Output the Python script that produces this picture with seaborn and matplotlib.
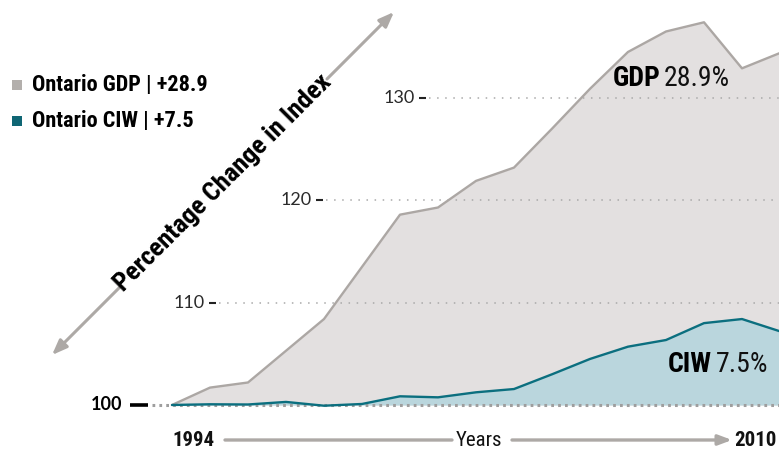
import matplotlib
matplotlib.use("Agg")
import matplotlib.pyplot as plt
from matplotlib import font_manager as fm
import seaborn as sns
import pandas as pd
import os

# ---- data ----
years = list(range(1994, 2011))
gdp = [100, 101.7, 102.2, 105.3, 108.4, 113.5, 118.6, 119.3, 121.9, 123.2,
       127.0, 130.9, 134.5, 136.5, 137.4, 132.9, 134.4]
ciw = [100, 100.07, 100.05, 100.3, 99.93, 100.1, 100.85, 100.75, 101.24, 101.56,
       103.0, 104.5, 105.7, 106.35, 108.0, 108.4, 107.2]
series_names = ["Ontario GDP", "Ontario CIW"]
legend_labels = ["Ontario GDP | +28.9", "Ontario CIW | +7.5"]
tick_values = [100, 110, 120, 130]
tick_labels = ["100", "110", "120", "130"]
x_labels = ["1994", "Years", "2010"]
y_title = "Percentage Change in Index"
annot_gdp = ("GDP", "28.9%")
annot_ciw = ("CIW", "7.5%")

# ---- fonts: look for a condensed face ----
files = [f.fname for f in fm.fontManager.ttflist]
def find(patterns):
    for p in patterns:
        for f in files:
            if os.path.basename(f).lower() == p.lower():
                return f
    return None

bold_file = find(["LiberationSansNarrow-Bold.ttf", "NotoSans-ExtraCondensedBold.ttf",
                  "RobotoCondensed-Bold.ttf", "DejaVuSansCondensed-Bold.ttf",
                  "NotoSans-CondensedBold.ttf", "OpenSans-CondensedBold.ttf"])
reg_file = find(["LiberationSansNarrow-Regular.ttf", "NotoSans-ExtraCondensed.ttf",
                 "RobotoCondensed-Regular.ttf", "DejaVuSansCondensed.ttf",
                 "NotoSans-Condensed.ttf", "OpenSans-CondensedRegular.ttf"])

def fp(size, bold=True):
    f = bold_file if bold else reg_file
    if f:
        return fm.FontProperties(fname=f, size=size)
    return fm.FontProperties(family="DejaVu Sans", stretch="condensed",
                             weight="bold" if bold else "normal", size=size)

# ---- styling ----
sns.set_style("white")
GEO = ["Lato", "DejaVu Sans"]
plt.rcParams["font.family"] = ["DejaVu Sans"]

GDP_FILL = "#e3e0e0"
GDP_LINE = "#aca7a4"
CIW_FILL = "#bad6dd"
CIW_LINE = "#0b6f7f"
ARROW = "#ada9a6"
DOT = "#a9a9a9"

W, H = 779, 450
fig = plt.figure(figsize=(W / 100, H / 100), dpi=100)
ax = fig.add_axes([0, 0, 1, 1])
ax.set_axis_off()

x0px, pxyr = 172, 38.0
y100px, pxunit = 405, 10.233
ax.set_xlim(1994 - x0px / pxyr, 1994 + (W - x0px) / pxyr)
ax.set_ylim(100 - (H - y100px) / pxunit, 100 + y100px / pxunit)

def px2x(px):
    return 1994 + (px - x0px) / pxyr

df = pd.DataFrame({"year": years * 2,
                   "value": gdp + ciw,
                   "series": [series_names[0]] * len(years) + [series_names[1]] * len(years)})

ax.fill_between(years, 100, gdp, color=GDP_FILL, lw=0, zorder=1)
ax.fill_between(years, 100, ciw, color=CIW_FILL, lw=0, zorder=2)

label_right = {100: 122, 110: 205, 120: 312, 130: 415}
for v, lab in zip(tick_values, tick_labels):
    L = label_right[v]
    if v == 100:
        ax.hlines(v, px2x(152), px2x(W + 5), color="#9e9e9e", lw=2.2,
                  linestyles=(0, (0.9, 1.35)), zorder=5)
        ax.hlines(v, px2x(130), px2x(148), color="black", lw=2.6, zorder=5)
        ax.text(px2x(L), v, lab, ha="right", va="center", fontsize=13,
                fontweight="bold", family=GEO, color="black")
    else:
        ax.hlines(v, px2x(L + 14), px2x(W + 5), color=DOT, lw=1.1,
                  linestyles=(0, (1, 4.3)), zorder=3)
        ax.hlines(v, px2x(L + 4), px2x(L + 11), color="#222222", lw=1.5, zorder=3)
        ax.text(px2x(L), v, lab, ha="right", va="center", fontsize=13,
                fontweight="normal", family=GEO, color="#2a2a2a")

sns.lineplot(data=df, x="year", y="value", hue="series",
             palette={series_names[0]: GDP_LINE, series_names[1]: CIW_LINE},
             linewidth=1.7, legend=False, ax=ax, zorder=6)

fig.text(660 / W, 1 - 78 / H, annot_gdp[0], ha="right", va="center",
         fontproperties=fp(20, True), color="black")
fig.text(664 / W, 1 - 78 / H, annot_gdp[1], ha="left", va="center",
         fontproperties=fp(20, False), color="#111111")
fig.text(712 / W, 1 - 365 / H, annot_ciw[0], ha="right", va="center",
         fontproperties=fp(20, True), color="black")
fig.text(716 / W, 1 - 365 / H, annot_ciw[1], ha="left", va="center",
         fontproperties=fp(20, False), color="#111111")

for i, (lab, col) in enumerate(zip(legend_labels, ["#b3afac", "#0f6674"])):
    yc = [85, 121][i]
    fig.patches.append(plt.Rectangle((12 / W, 1 - (yc + 5) / H), 10 / W, 10 / H,
                                     transform=fig.transFigure, color=col, lw=0))
    fig.text(32 / W, 1 - yc / H, lab, ha="left", va="center",
             fontproperties=fp(16, True), color="black")

akw = dict(arrowstyle="-|>,head_length=0.9,head_width=0.35", color=ARROW, lw=2.2,
           shrinkA=0, shrinkB=0)
ax.annotate("", xy=(52, H - 355), xytext=(120, H - 287), xycoords="figure pixels",
            textcoords="figure pixels", arrowprops=akw)
ax.annotate("", xy=(394, H - 12), xytext=(327, H - 79), xycoords="figure pixels",
            textcoords="figure pixels", arrowprops=akw)
fig.text(223 / W, 1 - 183 / H, y_title, rotation=45, rotation_mode="anchor",
         ha="center", va="center", fontproperties=fp(19, True), color="black")

fig.text(194 / W, 1 - 440 / H, x_labels[0], ha="center", va="center",
         fontproperties=fp(15, True), color="#111111")
fig.text(479 / W, 1 - 440 / H, x_labels[1], ha="center", va="center",
         fontproperties=fp(15, False), color="#111111")
fig.text(777 / W, 1 - 440 / H, x_labels[2], ha="right", va="center",
         fontproperties=fp(15, True), color="#111111")
ax.annotate("", xy=(452, H - 440), xytext=(225, H - 440), xycoords="figure pixels",
            textcoords="figure pixels",
            arrowprops=dict(arrowstyle="-", color=ARROW, lw=2.4, shrinkA=0, shrinkB=0))
ax.annotate("", xy=(732, H - 440), xytext=(512, H - 440), xycoords="figure pixels",
            textcoords="figure pixels",
            arrowprops=dict(arrowstyle="-|>,head_length=0.8,head_width=0.3", color=ARROW,
                            lw=2.4, shrinkA=0, shrinkB=0))

fig.savefig("out.png", dpi=100)
